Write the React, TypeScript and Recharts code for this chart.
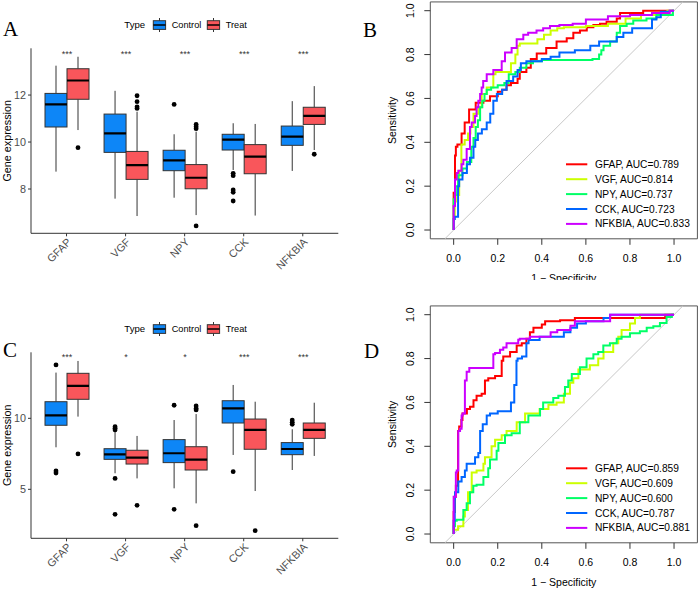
import React from 'react';
import { ComposedChart, Bar, Line, XAxis, YAxis, ReferenceArea, ReferenceLine, Legend } from 'recharts';

const genes = ['GFAP', 'VGF', 'NPY', 'CCK', 'NFKBIA'];
const groups = ['Control', 'Treat'];
const groupFill = ['#0D86F7', '#F9565B'];

// box stats per gene: [lower whisker, q1, median, q3, upper whisker]
const controlA = [
  [8.74, 10.64, 11.6, 12.07, 13.25],
  [7.59, 9.56, 10.37, 11.19, 12.18],
  [7.63, 8.78, 9.22, 9.65, 10.33],
  [8.81, 9.66, 10.1, 10.33, 10.8],
  [8.77, 9.86, 10.23, 10.68, 11.74],
];
const treatA = [
  [10.51, 11.82, 12.62, 13.12, 13.63],
  [6.85, 8.41, 9.02, 9.6, 11.29],
  [6.89, 8.01, 8.48, 9.04, 10.44],
  [6.87, 8.65, 9.38, 9.89, 10.77],
  [9.66, 10.75, 11.11, 11.48, 12.38],
];
const controlAOut = [[], [], [11.6], [8.67, 8.57, 7.96, 7.86, 7.49], []];
const treatAOut = [[9.76], [11.97, 11.72, 11.5, 11.43], [10.75, 10.65, 10.57, 6.43], [], [9.48]];
const sigA = ['***', '***', '***', '***', '***'];

const controlC = [
  [7.96, 9.51, 10.21, 11.17, 13.22],
  [6.13, 7.11, 7.46, 7.86, 9.06],
  [5.07, 6.88, 7.54, 8.5, 9.88],
  [7.42, 9.67, 10.7, 11.24, 12.35],
  [6.36, 7.44, 7.84, 8.29, 9.23],
];
const treatC = [
  [10.12, 11.34, 12.28, 13.17, 14.04],
  [5.77, 6.78, 7.23, 7.75, 8.76],
  [4.01, 6.36, 7.09, 8.0, 10.3],
  [4.88, 7.82, 9.18, 9.95, 11.17],
  [7.35, 8.59, 9.18, 9.67, 11.1],
];
const controlCOut = [[13.76, 6.29, 6.15], [9.41, 9.3, 9.18, 5.77, 3.24], [10.92, 3.59], [6.24], [9.88, 9.72, 9.58]];
const treatCOut = [[7.49], [3.87], [10.87, 10.7, 10.59, 2.44], [2.09], []];
const sigC = ['***', '*', '*', '***', '***'];

// ROC curves as [1 - specificity, sensitivity]
const rocB_GFAP = [[0, 0], [0, 0.15], [0.006, 0.17], [0.01, 0.34], [0.017, 0.38], [0.036, 0.39], [0.05, 0.44], [0.07, 0.49], [0.1, 0.55], [0.135, 0.58], [0.165, 0.59], [0.2, 0.61], [0.22, 0.63], [0.24, 0.64], [0.26, 0.66], [0.29, 0.67], [0.3, 0.69], [0.33, 0.72], [0.35, 0.74], [0.377, 0.78], [0.42, 0.805], [0.467, 0.83], [0.513, 0.86], [0.543, 0.874], [0.573, 0.9], [0.604, 0.91], [0.634, 0.924], [0.664, 0.935], [0.694, 0.94], [0.74, 0.95], [0.755, 0.965], [0.77, 0.99], [0.86, 0.99], [0.87, 1], [1, 1]];
const rocB_VGF = [[0, 0], [0.005, 0.05], [0.01, 0.13], [0.025, 0.16], [0.035, 0.27], [0.05, 0.39], [0.065, 0.41], [0.076, 0.44], [0.09, 0.47], [0.112, 0.53], [0.127, 0.56], [0.15, 0.62], [0.18, 0.65], [0.19, 0.71], [0.26, 0.72], [0.28, 0.76], [0.29, 0.8], [0.3, 0.84], [0.38, 0.85], [0.41, 0.87], [0.44, 0.89], [0.47, 0.91], [0.5, 0.92], [0.6, 0.925], [0.7, 0.93], [0.78, 0.94], [0.85, 0.965], [0.93, 0.98], [0.97, 0.99], [1, 1]];
const rocB_NPY = [[0, 0], [0, 0.13], [0.005, 0.14], [0.01, 0.16], [0.02, 0.2], [0.04, 0.25], [0.06, 0.28], [0.08, 0.31], [0.09, 0.38], [0.1, 0.42], [0.11, 0.47], [0.12, 0.5], [0.13, 0.56], [0.14, 0.59], [0.15, 0.62], [0.17, 0.64], [0.2, 0.65], [0.23, 0.66], [0.25, 0.67], [0.28, 0.71], [0.3, 0.72], [0.33, 0.74], [0.36, 0.76], [0.4, 0.77], [0.63, 0.775], [0.66, 0.78], [0.67, 0.8], [0.68, 0.82], [0.71, 0.84], [0.74, 0.86], [0.755, 0.9], [0.785, 0.93], [0.815, 0.94], [0.875, 0.955], [0.92, 0.965], [0.96, 0.98], [0.995, 0.98], [1, 1]];
const rocB_CCK = [[0, 0], [0.005, 0.05], [0.02, 0.06], [0.025, 0.2], [0.04, 0.23], [0.06, 0.26], [0.074, 0.3], [0.09, 0.33], [0.098, 0.38], [0.11, 0.41], [0.128, 0.44], [0.15, 0.46], [0.166, 0.49], [0.18, 0.53], [0.196, 0.59], [0.22, 0.62], [0.24, 0.64], [0.27, 0.68], [0.29, 0.7], [0.305, 0.73], [0.33, 0.76], [0.4, 0.77], [0.44, 0.78], [0.48, 0.79], [0.55, 0.81], [0.62, 0.82], [0.66, 0.84], [0.74, 0.86], [0.77, 0.88], [0.81, 0.9], [0.9, 0.92], [0.92, 0.96], [0.94, 0.97], [0.98, 0.995], [1, 1]];
const rocB_NFKBIA = [[0, 0], [0, 0.08], [0.006, 0.11], [0.014, 0.23], [0.021, 0.26], [0.036, 0.27], [0.044, 0.3], [0.059, 0.32], [0.074, 0.37], [0.082, 0.47], [0.097, 0.49], [0.104, 0.52], [0.112, 0.56], [0.12, 0.59], [0.127, 0.62], [0.134, 0.65], [0.15, 0.68], [0.18, 0.71], [0.218, 0.73], [0.233, 0.77], [0.263, 0.81], [0.286, 0.83], [0.316, 0.87], [0.338, 0.89], [0.376, 0.9], [0.406, 0.91], [0.437, 0.92], [0.48, 0.93], [0.54, 0.935], [0.6, 0.94], [0.7, 0.96], [0.8, 0.975], [0.9, 0.98], [0.98, 0.99], [1, 1]];
const aucB = [0.789, 0.814, 0.737, 0.723, 0.833];

const rocD_GFAP = [[0, 0], [0.005, 0.1], [0.01, 0.17], [0.02, 0.22], [0.025, 0.47], [0.035, 0.49], [0.04, 0.52], [0.06, 0.55], [0.074, 0.57], [0.09, 0.58], [0.104, 0.61], [0.127, 0.63], [0.142, 0.64], [0.157, 0.7], [0.188, 0.71], [0.218, 0.72], [0.225, 0.79], [0.256, 0.81], [0.286, 0.83], [0.309, 0.86], [0.33, 0.87], [0.346, 0.89], [0.362, 0.92], [0.4, 0.94], [0.415, 0.955], [0.437, 0.97], [0.483, 0.97], [0.55, 0.975], [0.57, 0.985], [0.96, 0.985], [0.97, 1], [1, 1]];
const rocD_VGF = [[0, 0], [0.02, 0.02], [0.044, 0.035], [0.051, 0.08], [0.065, 0.11], [0.082, 0.19], [0.104, 0.28], [0.135, 0.29], [0.142, 0.32], [0.172, 0.35], [0.188, 0.4], [0.218, 0.43], [0.24, 0.45], [0.286, 0.47], [0.324, 0.51], [0.39, 0.55], [0.43, 0.57], [0.467, 0.59], [0.5, 0.6], [0.528, 0.64], [0.543, 0.69], [0.566, 0.71], [0.618, 0.75], [0.656, 0.77], [0.68, 0.8], [0.724, 0.83], [0.747, 0.87], [0.762, 0.9], [0.8, 0.93], [0.823, 0.96], [0.845, 0.985], [0.906, 1], [1, 1]];
const rocD_NPY = [[0, 0], [0.006, 0.035], [0.014, 0.06], [0.044, 0.065], [0.059, 0.11], [0.074, 0.14], [0.089, 0.19], [0.104, 0.22], [0.135, 0.225], [0.157, 0.26], [0.165, 0.3], [0.195, 0.34], [0.203, 0.38], [0.233, 0.415], [0.263, 0.45], [0.3, 0.46], [0.339, 0.51], [0.392, 0.54], [0.406, 0.57], [0.452, 0.6], [0.475, 0.62], [0.505, 0.63], [0.52, 0.67], [0.536, 0.7], [0.573, 0.73], [0.603, 0.76], [0.634, 0.8], [0.656, 0.82], [0.679, 0.83], [0.709, 0.86], [0.74, 0.87], [0.762, 0.89], [0.8, 0.9], [0.845, 0.915], [0.876, 0.925], [0.906, 0.94], [0.936, 0.947], [0.966, 0.962], [0.99, 0.99], [1, 1]];
const rocD_CCK = [[0, 0], [0.005, 0.06], [0.006, 0.16], [0.021, 0.19], [0.036, 0.24], [0.051, 0.26], [0.059, 0.29], [0.074, 0.32], [0.097, 0.32], [0.112, 0.35], [0.12, 0.37], [0.132, 0.47], [0.15, 0.5], [0.165, 0.54], [0.2, 0.55], [0.26, 0.56], [0.275, 0.6], [0.285, 0.68], [0.29, 0.79], [0.31, 0.8], [0.33, 0.81], [0.34, 0.87], [0.39, 0.885], [0.46, 0.9], [0.5, 0.9], [0.53, 0.92], [0.56, 0.94], [0.6, 0.96], [0.68, 0.97], [0.71, 0.985], [0.73, 1], [1, 1]];
const rocD_NFKBIA = [[0, 0], [0, 0.17], [0.01, 0.17], [0.014, 0.28], [0.021, 0.29], [0.029, 0.47], [0.036, 0.48], [0.041, 0.54], [0.051, 0.55], [0.059, 0.7], [0.071, 0.74], [0.082, 0.757], [0.18, 0.757], [0.188, 0.82], [0.21, 0.825], [0.225, 0.84], [0.24, 0.85], [0.293, 0.87], [0.3, 0.886], [0.346, 0.89], [0.44, 0.9], [0.47, 0.92], [0.53, 0.93], [0.55, 0.95], [0.71, 0.97], [0.785, 1], [1, 1]];
const aucD = [0.859, 0.609, 0.6, 0.787, 0.881];

const rocColors = ['#FF0000', '#CCFF00', '#00FF66', '#0066FF', '#CC00FF'];
const rocTicks = [0, 0.2, 0.4, 0.6, 0.8, 1];

const sans = '"Liberation Sans", Arial, Helvetica, sans-serif';
const serif = '"Liberation Serif", "Times New Roman", serif';

const boxRows = (ctrl: number[][], treat: number[][], ctrlOut: number[][], treatOut: number[][], sig: string[]) =>
  genes.map((gene, i) => ({ gene, ctrl: ctrl[i], treat: treat[i], ctrlOut: ctrlOut[i], treatOut: treatOut[i], sig: sig[i] }));

const toPoints = (pts: number[][]) => pts.map(([fpr, tpr]) => ({ fpr, tpr }));

// whisker/box/median/outliers drawn inside the range bar that spans the whiskers
const boxShape = (group: 'ctrl' | 'treat', fill: string, sigLevel: number) => (props: any) => {
  const { x, y, width, height, payload } = props;
  const s: number[] = payload[group];
  const out: number[] = payload[group + 'Out'];
  const top = Math.min(y, y + height);
  const bottom = Math.max(y, y + height);
  const py = (v: number) => bottom - ((v - s[0]) / (s[4] - s[0])) * (bottom - top);
  const cx = x + width / 2;
  return (
    <g>
      <line x1={cx} x2={cx} y1={py(s[4])} y2={py(s[3])} stroke="#333" strokeWidth={1} />
      <line x1={cx} x2={cx} y1={py(s[1])} y2={py(s[0])} stroke="#333" strokeWidth={1} />
      <rect x={x} y={py(s[3])} width={width} height={py(s[1]) - py(s[3])} fill={fill} stroke="#333" strokeWidth={1} />
      <line x1={x} x2={x + width} y1={py(s[2])} y2={py(s[2])} stroke="#000" strokeWidth={2.2} />
      {out.map((v, k) => (
        <circle key={k} cx={cx} cy={py(v)} r={2.4} fill="#000" />
      ))}
      {group === 'ctrl' && (
        <text x={x + width} y={py(sigLevel)} dy="0.55em" textAnchor="middle" fontSize={9} fill="#333">
          {payload.sig}
        </text>
      )}
    </g>
  );
};

const SlantTick = (props: any) => {
  const { x, y, payload } = props;
  return (
    <text x={x} y={y} dy="0.71em" textAnchor="end" transform={`rotate(-45 ${x} ${y})`} fontSize={10.8} fill="#4d4d4d">
      {payload.value}
    </text>
  );
};

const KeyGlyph = ({ x, fill }: { x: number; fill: string }) => (
  <g>
    <line x1={x + 6.2} x2={x + 6.2} y1={1} y2={15} stroke="#333" />
    <rect x={x} y={3.7} width={12.3} height={8.7} fill={fill} stroke="#333" />
    <line x1={x} x2={x + 12.3} y1={8} y2={8} stroke="#000" strokeWidth={1.5} />
  </g>
);

const TypeLegend = () => (
  <svg width={135} height={16}>
    <text x={4.3} y={8} dy="0.35em" fontSize={9.6} fill="#000">Type</text>
    <KeyGlyph x={33.3} fill={groupFill[0]} />
    <text x={51.7} y={8} dy="0.35em" fontSize={9.2} fill="#000">{groups[0]}</text>
    <KeyGlyph x={87.3} fill={groupFill[1]} />
    <text x={105.7} y={8} dy="0.35em" fontSize={9.2} fill="#000">{groups[1]}</text>
  </svg>
);

type BoxPanelProps = {
  rows: any[];
  top: number;
  plotTop: number;
  plotHeight: number;
  domain: [number, number];
  ticks: number[];
  sigLevel: number;
  legendTop: number;
};

const BoxPanel = ({ rows, top, plotTop, plotHeight, domain, ticks, sigLevel, legendTop }: BoxPanelProps) => (
  <div style={{ position: 'absolute', left: 0, top }}>
    <ComposedChart
      width={345}
      height={plotTop + plotHeight + 50}
      data={rows}
      margin={{ top: plotTop, right: 6.7, bottom: 0, left: -17 }}
      barGap={0}
    >
      <XAxis
        dataKey="gene"
        type="category"
        padding={{ left: 6, right: 6 }}
        height={50}
        interval={0}
        tick={<SlantTick />}
        tickSize={3}
        tickMargin={1}
        axisLine={{ stroke: '#333' }}
        tickLine={{ stroke: '#333' }}
      />
      <YAxis
        type="number"
        domain={domain}
        ticks={ticks}
        allowDataOverflow
        width={48}
        tickSize={3}
        tickMargin={2}
        tick={{ fontSize: 10.8, fill: '#4d4d4d' }}
        axisLine={{ stroke: '#333' }}
        tickLine={{ stroke: '#333' }}
        label={{ value: 'Gene expression', angle: -90, position: 'center', fontSize: 10.8, fill: '#000' }}
      />
      <Legend
        layout="horizontal"
        verticalAlign="middle"
        align="center"
        content={TypeLegend}
        wrapperStyle={{ left: 120, top: legendTop, width: 135, height: 16 }}
      />
      <Bar
        dataKey={(d: any) => [d.ctrl[0], d.ctrl[4]]}
        name={groups[0]}
        barSize={22}
        shape={boxShape('ctrl', groupFill[0], sigLevel)}
        isAnimationActive={false}
      />
      <Bar
        dataKey={(d: any) => [d.treat[0], d.treat[4]]}
        name={groups[1]}
        barSize={22}
        shape={boxShape('treat', groupFill[1], sigLevel)}
        isAnimationActive={false}
      />
    </ComposedChart>
  </div>
);

const VertTick = (props: any) => {
  const { x, y, payload } = props;
  return (
    <text x={x} y={y} transform={`rotate(-90 ${x} ${y})`} textAnchor="middle" fontSize={10.5} fill="#000">
      {payload.value.toFixed(1)}
    </text>
  );
};

const rocLegend = (auc: number[]) => () => (
  <svg width={140} height={80}>
    {genes.map((g, i) => (
      <g key={g}>
        <line x1={6} x2={27.3} y1={9.3 + i * 14.9} y2={9.3 + i * 14.9} stroke={rocColors[i]} strokeWidth={2} />
        <text x={35} y={9.3 + i * 14.9} dy="0.35em" fontSize={10.2} fill="#000">
          {`${g}, AUC=${auc[i].toFixed(3)}`}
        </text>
      </g>
    ))}
  </svg>
);

type RocPanelProps = { curves: number[][][]; auc: number[]; top: number; clipHeight: number };

const RocPanel = ({ curves, auc, top, clipHeight }: RocPanelProps) => (
  <div style={{ position: 'absolute', left: 350, top, width: 350, height: clipHeight, overflow: 'hidden' }}>
    <ComposedChart width={350} height={318} margin={{ top: 1.93, right: 2.6, bottom: 0, left: 4.1 }}>
      <XAxis
        type="number"
        dataKey="fpr"
        domain={[-0.106, 1.106]}
        ticks={rocTicks}
        allowDataOverflow
        axisLine={false}
        tickSize={6}
        tickMargin={10}
        tickLine={{ stroke: '#333' }}
        tick={{ fontSize: 10.5, fill: '#000' }}
        tickFormatter={(v: number) => v.toFixed(1)}
        height={79.2}
        label={{ value: '1 − Specificity', position: 'center', fontSize: 10.5, fill: '#000' }}
      />
      <YAxis
        type="number"
        dataKey="tpr"
        domain={[-0.04, 1.04]}
        ticks={rocTicks}
        allowDataOverflow
        axisLine={false}
        width={76.2}
        tickSize={6}
        tickMargin={10}
        tickLine={{ stroke: '#333' }}
        tick={<VertTick />}
        label={{ value: 'Sensitivity', angle: -90, position: 'center', fontSize: 10.5, fill: '#000' }}
      />
      <ReferenceArea x1={-0.106} x2={1.106} y1={-0.04} y2={1.04} fill="none" stroke="#555" strokeWidth={1} ifOverflow="visible" />
      <ReferenceLine
        segment={[{ x: -0.04, y: -0.04 }, { x: 1.04, y: 1.04 }]}
        stroke="#c8c8c8"
        strokeWidth={1}
      />
      {curves.map((pts, i) => (
        <Line
          key={genes[i]}
          data={toPoints(pts)}
          dataKey="tpr"
          name={genes[i]}
          type="stepBefore"
          stroke={rocColors[i]}
          strokeWidth={2}
          dot={false}
          isAnimationActive={false}
        />
      ))}
      <Legend
        layout="horizontal"
        verticalAlign="middle"
        align="center"
        content={rocLegend(auc)}
        wrapperStyle={{ left: 210, top: 155, width: 140, height: 80 }}
      />
    </ComposedChart>
  </div>
);

export default function App() {
  return (
    <div
      style={{
        position: 'absolute',
        left: 0,
        top: 0,
        width: 700,
        height: 589,
        overflow: 'hidden',
        background: '#fff',
        fontFamily: sans,
      }}
    >
      <BoxPanel
        rows={boxRows(controlA, treatA, controlAOut, treatAOut, sigA)}
        top={0}
        plotTop={48.3}
        plotHeight={185}
        domain={[6.115, 13.99]}
        ticks={[8, 10, 12]}
        sigLevel={13.84}
        legendTop={17}
      />
      <BoxPanel
        rows={boxRows(controlC, treatC, controlCOut, treatCOut, sigC)}
        top={290}
        plotTop={62.3}
        plotHeight={186}
        domain={[1.55, 14.65]}
        ticks={[5, 10]}
        sigLevel={14.44}
        legendTop={31.3}
      />
      <RocPanel curves={[rocB_GFAP, rocB_VGF, rocB_NPY, rocB_CCK, rocB_NFKBIA]} auc={aucB} top={0} clipHeight={280} />
      <RocPanel curves={[rocD_GFAP, rocD_VGF, rocD_NPY, rocD_CCK, rocD_NFKBIA]} auc={aucD} top={304.3} clipHeight={318} />
      <svg width={700} height={589} style={{ position: 'absolute', left: 0, top: 0, pointerEvents: 'none' }}>
        <g fontFamily={serif} fontSize={21} fill="#000">
          <text x={3} y={36}>A</text>
          <text x={363} y={36.7}>B</text>
          <text x={3} y={357.3}>C</text>
          <text x={364} y={358.3}>D</text>
        </g>
      </svg>
    </div>
  );
}
